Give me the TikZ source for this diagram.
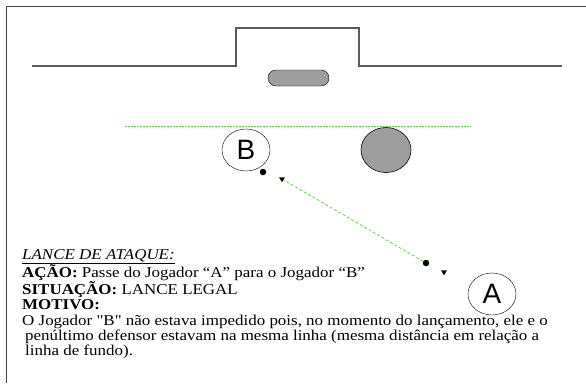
\documentclass[tikz,border=0pt]{standalone}
\usepackage{fontspec}
\usepackage{tikz}
\usetikzlibrary{shapes.geometric}
\setmainfont{Liberation Serif}
\newfontfamily\plsans{Liberation Sans}
\newfontfamily\txtfont{Liberation Serif}[FakeStretch=1.13]
\definecolor{pitchgreen}{RGB}{90,220,60}
\definecolor{keepergray}{RGB}{158,158,158}
\tikzset{
    player/.style={ellipse, draw, thin, inner sep=0pt, minimum width=48pt, minimum height=42pt,
                   font=\plsans\fontsize{28}{28}\selectfont},
    keeper/.style={ellipse, draw, semithick, fill=keepergray, minimum width=50pt, minimum height=45pt},
    ballmark/.style={circle, fill=black, inner sep=0pt, minimum size=6.5pt},
    tipmark/.style={isosceles triangle, isosceles triangle stretches, shape border rotate=-90,
                    fill=black, inner sep=0pt, minimum width=6pt, minimum height=5pt},
    passline/.style={pitchgreen, thick, dash pattern=on 3pt off 2pt}
}
\begin{document}
\begin{tikzpicture}[x=1pt,y=-1pt]
                \useasboundingbox (0,0) rectangle (586,383);
                % Draw the frame and the goal
                \draw[black!75, line width=1.3pt] (586,6.5) -- (6.5,6.5) -- (6.5,383);
                \draw[black!65, line width=1.5pt] (32,66) -- (236,66) -- (236,28) -- (359,28) -- (359,66) -- (562,66);
                \draw[fill=keepergray, rounded corners=8pt] (268,70) rectangle (329,86);
                % Draw the line of the second last defender
                \draw[pitchgreen, line width=1pt, dash pattern=on 1.5pt off 1.5pt] (125,126) -- (471,126);
                % Draw the players
                \node[player] (playerB) at (246,150) {B};
                \node[keeper] (defender) at (386,150) {};
                \node[player] (playerA) at (492,294) {A};
                \node[ballmark] (ballB) at (263,172) {};
                \node[ballmark] (ballA) at (426,263) {};
                \node[tipmark] (tipB) at (282,179) {};
                \node[tipmark] (tipA) at (444,272) {};
                % Draw the pass
                \draw[passline] (ballA) -- (tipB);
                % Text
                \node[anchor=north west, align=left, inner sep=0pt,
                      font=\txtfont\fontsize{15}{15.3}\selectfont] (caption) at (22,249)
                    {\underline{\textit{LANCE DE ATAQUE:}}\\
                     \textbf{AÇÃO:} Passe do Jogador “A” para o Jogador “B”\\
                     \textbf{SITUAÇÃO:} LANCE LEGAL\\
                     \textbf{MOTIVO:}\\
                     O Jogador "B" não estava impedido pois, no momento do lançamento, ele e o\\
                     \hspace*{3pt}penúltimo defensor estavam na mesma linha (mesma distância em relação a\\
                     \hspace*{3pt}linha de fundo).};
            \end{tikzpicture}
\end{document}
